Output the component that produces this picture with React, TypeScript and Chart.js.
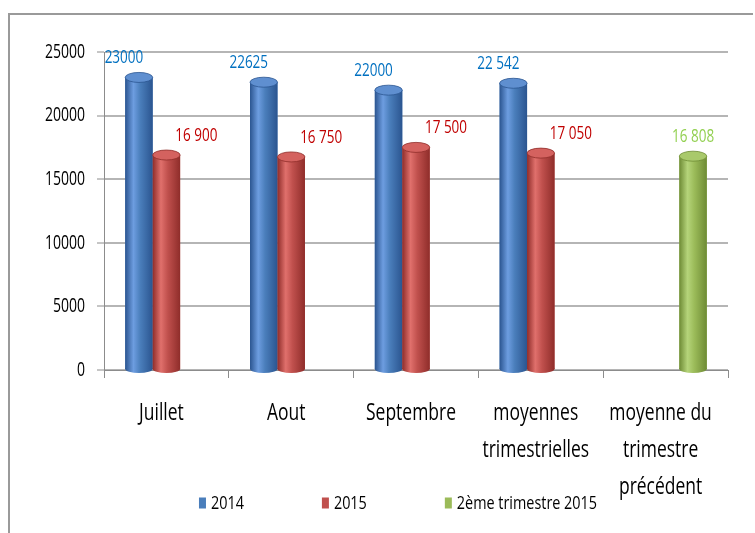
import React, { useEffect, useRef } from "react";
import { Chart, registerables } from "chart.js";

Chart.register(...registerables);

const categories: string[][] = [
  ["Juillet"],
  ["Aout"],
  ["Septembre"],
  ["moyennes", "trimestrielles"],
  ["moyenne du", "trimestre", "précédent"],
];
const seriesNames = ["2014", "2015", "2ème trimestre 2015"];
const values2014 = [23000, 22625, 22000, 22542, null];
const values2015 = [16900, 16750, 17500, 17050, null];
const valuesT2 = [null, null, null, null, 16808];
const labels2014 = ["23000", "22625", "22000", "22 542", ""];
const labels2015 = ["16 900", "16 750", "17 500", "17 050", ""];
const labelsT2 = ["", "", "", "", "16 808"];
const yMin = 0;
const yMax = 25000;
const yStep = 5000;

const FONT = "'Open Sans', 'Noto Sans', sans-serif";

const styles = [
  { base: "#4a7ebb", dark: "#2b5590", light: "#6d9de0", cap: "#5f8fd0", text: "#0070c0", dx: -15 },
  { base: "#c0504d", dark: "#8f2d2a", light: "#e0706c", cap: "#d4625f", text: "#c00000", dx: 30 },
  { base: "#9bbb59", dark: "#6e8b35", light: "#b5d47a", cap: "#a9c96b", text: "#92d050", dx: 0 },
];
const pointLabels = [labels2014, labels2015, labelsT2];

function drawText(
  c: CanvasRenderingContext2D,
  text: string,
  x: number,
  y: number,
  size: number,
  sx: number,
  align: CanvasTextAlign,
  baseline: CanvasTextBaseline,
  color: string
) {
  c.save();
  c.translate(x, y);
  c.scale(sx, 1);
  c.font = `${size}px ${FONT}`;
  c.textAlign = align;
  c.textBaseline = baseline;
  c.fillStyle = color;
  c.fillText(text, 0, 0);
  c.restore();
}

const framePlugin = {
  id: "frame",
  beforeDraw(chart: any) {
    const c = chart.ctx;
    c.save();
    c.fillStyle = "#ffffff";
    c.fillRect(0, 0, chart.width, chart.height);
    c.strokeStyle = "#9a9a9a";
    c.lineWidth = 2;
    c.beginPath();
    c.moveTo(9, chart.height);
    c.lineTo(9, 14);
    c.lineTo(chart.width - 2, 14);
    c.stroke();
    c.restore();
  },
};

const cylinderPlugin = {
  id: "cylinders",
  afterDatasetsDraw(chart: any) {
    const c = chart.ctx;
    chart.data.datasets.forEach((ds: any, di: number) => {
      const meta = chart.getDatasetMeta(di);
      const st = styles[di];
      meta.data.forEach((el: any, i: number) => {
        if (ds.data[i] == null) return;
        const { x, y, base, width } = el.getProps(["x", "y", "base", "width"], true);
        const left = x - width / 2;
        const g = c.createLinearGradient(left, 0, left + width, 0);
        g.addColorStop(0, st.dark);
        g.addColorStop(0.3, st.light);
        g.addColorStop(0.55, st.base);
        g.addColorStop(1, st.dark);
        c.save();
        c.fillStyle = g;
        c.beginPath();
        c.ellipse(x, base, width / 2, 4, 0, 0, Math.PI * 2);
        c.fill();
        c.fillRect(left, y, width, base - y);
        c.beginPath();
        c.ellipse(x, y, width / 2, 5, 0, 0, Math.PI * 2);
        c.fillStyle = st.cap;
        c.fill();
        c.strokeStyle = st.dark;
        c.lineWidth = 0.8;
        c.stroke();
        c.restore();
        drawText(c, pointLabels[di][i], x + st.dx, y - 14, 18, 0.75, "center", "alphabetic", st.text);
      });
    });
  },
};

const axisTextPlugin = {
  id: "axisText",
  afterDraw(chart: any) {
    const c = chart.ctx;
    const xs = chart.scales.x;
    const ys = chart.scales.y;
    const lineH = 37;
    xs.ticks.forEach((_t: any, i: number) => {
      const px = xs.getPixelForTick(i) - 5;
      const lines = categories[i];
      lines.forEach((ln, k) => {
        drawText(c, ln, px, 413 + k * lineH - 370 + xs.top, 23, 0.76, "center", "middle", "#000");
      });
    });
    ys.ticks.forEach((t: any) => {
      const py = ys.getPixelForValue(t.value);
      drawText(c, String(t.value), ys.right - 19, py, 20, 0.7, "right", "middle", "#000");
    });
  },
};

const legendPlugin = {
  id: "customLegend",
  afterDraw(chart: any) {
    const c = chart.ctx;
    const size = 18;
    const sx = 0.8;
    c.save();
    c.font = `${size}px ${FONT}`;
    const boxW = 7;
    const boxH = 11;
    const gapBox = 5;
    const gapItem = 78;
    const items = chart.data.datasets.map((ds: any) => ({
      label: ds.label,
      color: ds.backgroundColor,
      tw: c.measureText(ds.label).width * sx,
    }));
    c.restore();
    const total =
      items.reduce((s: number, it: any) => s + boxW + gapBox + it.tw, 0) + gapItem * (items.length - 1);
    let xx = 398 - total / 2;
    const yy = 503;
    items.forEach((it: any) => {
      c.save();
      c.fillStyle = it.color;
      c.fillRect(xx, yy - boxH / 2, boxW, boxH);
      c.restore();
      drawText(c, it.label, xx + boxW + gapBox, yy + 1, size, sx, "left", "middle", "#000");
      xx += boxW + gapBox + it.tw + gapItem;
    });
  },
};

export default function App() {
  const ref = useRef<HTMLCanvasElement | null>(null);
  useEffect(() => {
    if (!ref.current) return;
    const datasetsData = [values2014, values2015, valuesT2];
    const chart = new Chart(ref.current, {
      type: "bar",
      data: {
        labels: categories,
        datasets: datasetsData.map((d, i) => ({
          label: seriesNames[i],
          data: d,
          backgroundColor: styles[i].base,
          categoryPercentage: 0.66,
          barPercentage: 1,
        })),
      },
      options: {
        animation: false,
        responsive: false,
        layout: { padding: { left: 0, top: 52, right: 27, bottom: 0 } },
        plugins: {
          legend: { display: false },
          tooltip: { enabled: false },
          title: { display: false },
        },
        scales: {
          x: {
            grid: {
              display: true,
              drawOnChartArea: false,
              drawTicks: true,
              tickLength: 8,
              color: "#8c8c8c",
              offset: true,
            },
            border: { color: "#8c8c8c", width: 1 },
            ticks: {
              color: "rgba(0,0,0,0)",
              font: { family: FONT, size: 22, lineHeight: 1.7 },
              padding: 18,
              maxRotation: 0,
              autoSkip: false,
            },
            afterFit: (a: any) => {
              a.height = 163;
            },
          },
          y: {
            min: yMin,
            max: yMax,
            ticks: {
              stepSize: yStep,
              color: "rgba(0,0,0,0)",
              font: { family: FONT, size: 18 },
              padding: 10,
            },
            grid: {
              color: "#b5b5b5",
              lineWidth: 2,
              tickLength: 7,
              tickColor: "#8c8c8c",
              tickWidth: 1,
            },
            border: { color: "#8c8c8c", width: 1 },
            afterFit: (a: any) => {
              a.width = 104;
            },
          },
        },
      } as any,
      plugins: [framePlugin, cylinderPlugin, axisTextPlugin, legendPlugin],
    });
    return () => chart.destroy();
  }, []);
  return (
    <div style={{ position: "fixed", left: 0, top: 0, width: 755, height: 533 }}>
      <canvas ref={ref} width={755} height={533} style={{ display: "block" }} />
    </div>
  );
}
